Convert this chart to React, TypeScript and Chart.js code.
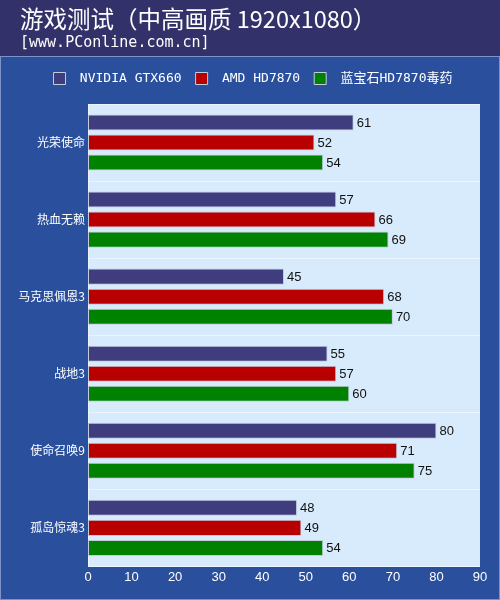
import { useEffect, useRef } from 'react';
import { Chart, registerables, ChartConfiguration, Plugin } from 'chart.js';

Chart.register(...registerables);

const games = ['光荣使命', '热血无赖', '马克思佩恩3', '战地3', '使命召唤9', '孤岛惊魂3'];
const gtx660 = [61, 57, 45, 55, 80, 48];
const hd7870 = [52, 66, 68, 57, 71, 49];
const toxic7870 = [54, 69, 70, 60, 75, 54];
const seriesNames = ['NVIDIA GTX660', 'AMD HD7870', '蓝宝石HD7870毒药'];
const seriesColors = ['#3f3d7d', '#b80000', '#008200'];

const chartTitle = '游戏测试（中高画质 1920x1080）';
const chartSubtitle = '[www.PConline.com.cn]';

// header, blue panel and light plot background
const backdrop: Plugin<'bar'> = {
  id: 'backdrop',
  beforeDraw(chart) {
    const { ctx, width, height, chartArea } = chart;
    ctx.save();
    ctx.fillStyle = '#2a509d';
    ctx.fillRect(0, 0, width, height);
    ctx.fillStyle = '#33316a';
    ctx.fillRect(0, 0, width, 56);
    ctx.strokeStyle = '#7d92c8';
    ctx.lineWidth = 1;
    ctx.strokeRect(0.5, 56.5, width - 1, height - 57);
    ctx.fillStyle = '#d8ebfc';
    ctx.fillRect(chartArea.left, chartArea.top, chartArea.right - chartArea.left, chartArea.bottom - chartArea.top);

    ctx.fillStyle = '#ffffff';
    ctx.textBaseline = 'alphabetic';
    ctx.textAlign = 'left';
    ctx.font = '23.5px "Noto Sans CJK SC", sans-serif';
    ctx.fillText(chartTitle, 20, 28);
    ctx.font = '15px "DejaVu Sans Mono", monospace';
    ctx.fillText(chartSubtitle, 20, 47);
    ctx.restore();
  },
};

// the legend sits a bit right of the page centre in the original
const legendShift: Plugin<'bar'> = {
  id: 'legendShift',
  afterLayout(chart) {
    const legend = chart.legend;
    if (!legend) return;
    legend.left += 13;
    legend.right += 13;
  },
};

// value labels at the end of each bar
const valueLabels: Plugin<'bar'> = {
  id: 'valueLabels',
  afterDatasetsDraw(chart) {
    const { ctx } = chart;
    ctx.save();
    ctx.fillStyle = '#111111';
    ctx.font = '13px "Liberation Sans", Arial, sans-serif';
    ctx.textAlign = 'left';
    ctx.textBaseline = 'middle';
    chart.data.datasets.forEach((ds, i) => {
      chart.getDatasetMeta(i).data.forEach((bar, j) => {
        const { x, y } = bar.getProps(['x', 'y'], true) as { x: number; y: number };
        ctx.fillText(String(ds.data[j]), x + 3, y + 1);
      });
    });
    ctx.restore();
  },
};

export default function App() {
  const canvasRef = useRef<HTMLCanvasElement>(null);
  const chartRef = useRef<Chart | null>(null);

  useEffect(() => {
    if (!canvasRef.current) return;
    if (chartRef.current) chartRef.current.destroy();

    const datasets = [gtx660, hd7870, toxic7870].map((values, i) => ({
      label: seriesNames[i],
      data: values,
      backgroundColor: seriesColors[i],
      borderColor: '#c2ccdc',
      borderWidth: 1,
      borderSkipped: false,
      categoryPercentage: 0.78,
      barPercentage: 0.8,
    }));

    chartRef.current = new Chart(canvasRef.current, {
      type: 'bar',
      data: { labels: games, datasets },
      options: {
        indexAxis: 'y',
        animation: false,
        responsive: false,
        devicePixelRatio: 1,
        layout: { padding: { top: 58, right: 20, bottom: 12, left: 0 } },
        plugins: {
          legend: {
            display: true,
            position: 'top',
            labels: {
              color: '#ffffff',
              boxWidth: 12,
              boxHeight: 12,
              padding: 14,
              font: { family: '"DejaVu Sans Mono", "Noto Sans CJK SC", monospace', size: 13 },
              // a little more room between the swatch and its text
              generateLabels: (chart: Chart) =>
                Chart.defaults.plugins.legend.labels
                  .generateLabels(chart)
                  .map((item) => ({ ...item, text: ' ' + item.text })),
            },
          },
          tooltip: { enabled: false },
        },
        scales: {
          x: {
            min: 0,
            max: 90,
            ticks: {
              stepSize: 10,
              color: '#ffffff',
              font: { family: '"Liberation Sans", Arial, sans-serif', size: 13 },
              padding: 3,
            },
            grid: { display: false, drawTicks: false, tickLength: 0 },
            border: { display: false },
          },
          // empty spacer between legend and plot
          xTop: {
            type: 'linear',
            position: 'top',
            display: true,
            ticks: { display: false },
            grid: { display: false, drawTicks: false, tickLength: 0 },
            border: { display: false },
            afterFit: (scale: any) => {
              scale.height = 9;
            },
          },
          y: {
            ticks: {
              color: '#ffffff',
              font: { family: '"Noto Sans CJK SC", sans-serif', size: 12 },
              padding: 3,
            },
            grid: { display: true, offset: true, color: '#eaf5ff', drawTicks: false },
            border: { display: true, color: '#eaf5ff' },
            afterFit: (scale: any) => {
              scale.width = 88;
            },
          },
        },
      },
      plugins: [backdrop, legendShift, valueLabels],
    } as ChartConfiguration<'bar'>);

    return () => {
      if (chartRef.current) {
        chartRef.current.destroy();
        chartRef.current = null;
      }
    };
  }, []);

  return (
    <div style={{ position: 'absolute', left: 0, top: 0, width: 500, height: 600 }}>
      <canvas ref={canvasRef} width={500} height={600} />
    </div>
  );
}
